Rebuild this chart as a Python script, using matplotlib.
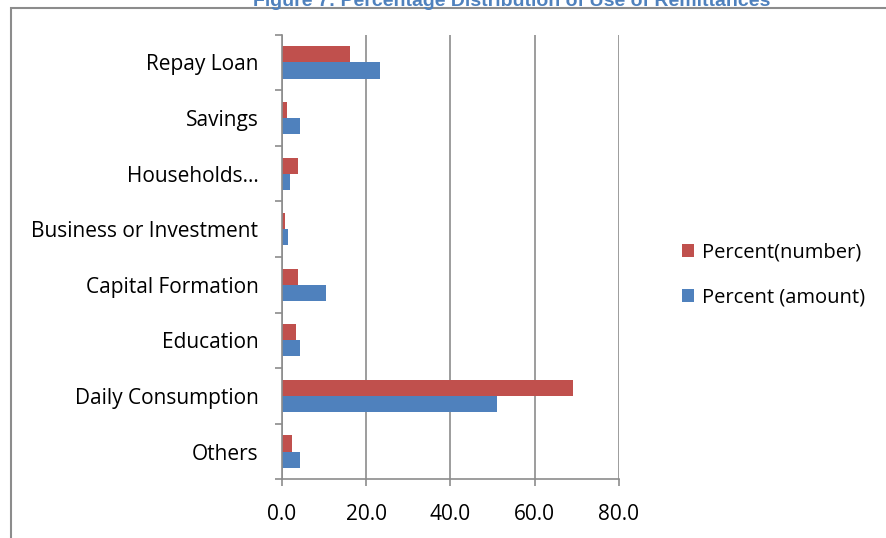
import matplotlib
matplotlib.use("Agg")
import matplotlib.pyplot as plt
import numpy as np
from matplotlib.patches import Rectangle

categories = ["Repay Loan", "Savings", "Households…", "Business or Investment",
              "Capital Formation", "Education", "Daily Consumption", "Others"]
pct_number = [16.1, 1.1, 3.7, 0.6, 3.7, 3.3, 69.1, 2.4]
pct_amount = [23.2, 4.2, 2.0, 1.5, 10.4, 4.2, 51.0, 4.2]
xticks = [0, 20, 40, 60, 80]
xticklabels = ["0.0", "20.0", "40.0", "60.0", "80.0"]
title = "Figure 7: Percentage Distribution of Use of Remittances"

plt.rcParams['font.family'] = ['Open Sans', 'DejaVu Sans']

W, H = 887, 538
fig = plt.figure(figsize=(W / 100, H / 100), dpi=100)

# outer chart frame
fig.patches.append(Rectangle((11 / W, -0.05), 1.0, 1 - 8 / H + 0.05, transform=fig.transFigure,
                             fill=False, edgecolor="#8c8c8c", linewidth=1.5))
fig.text(512 / W, 1 - 2 / H, title, ha="center", va="center", color="#4F81BD",
         fontsize=14, fontweight="bold", family=["Liberation Sans", "DejaVu Sans"])

left, right, top, bottom = 282, 619, 34.7, 479.3
ax = fig.add_axes([left / W, 1 - bottom / H, (right - left) / W, (bottom - top) / H])

n = len(categories)
y = np.arange(n)
h = 0.29
ax.barh(y - h / 2, pct_number, height=h, color="#C0504D", label="Percent(number)", zorder=3)
ax.barh(y + h / 2, pct_amount, height=h, color="#4F81BD", label="Percent (amount)", zorder=3)

ax.set_ylim(n - 0.5, -0.5)
ax.set_xlim(0, 80)
ax.set_xticks(xticks)
ax.set_xticklabels(xticklabels)
ax.set_yticks(y)
ax.set_yticklabels(categories)
ax.set_yticks(np.arange(n + 1) - 0.5, minor=True)
ax.tick_params(axis="y", which="major", length=0, pad=17, labelsize=15)
ax.tick_params(axis="y", which="minor", length=5, color="#8c8c8c", width=1.2)
ax.tick_params(axis="x", length=5, color="#8c8c8c", width=1.2, pad=13, labelsize=15)
ax.grid(axis="x", color="#8c8c8c", linewidth=1.2, zorder=0)
for s in ["top", "right"]:
    ax.spines[s].set_visible(False)
for s in ["left", "bottom"]:
    ax.spines[s].set_color("#8c8c8c")
    ax.spines[s].set_linewidth(1.2)
    ax.spines[s].set_zorder(4)

ax.legend(loc="center left", bbox_to_anchor=(664 / W, 1 - 275 / H), bbox_transform=fig.transFigure,
          frameon=False, fontsize=14.5, handlelength=0.6, handleheight=0.6, labelspacing=1.25,
          handletextpad=0.4)

fig.savefig("out.png", dpi=100)
